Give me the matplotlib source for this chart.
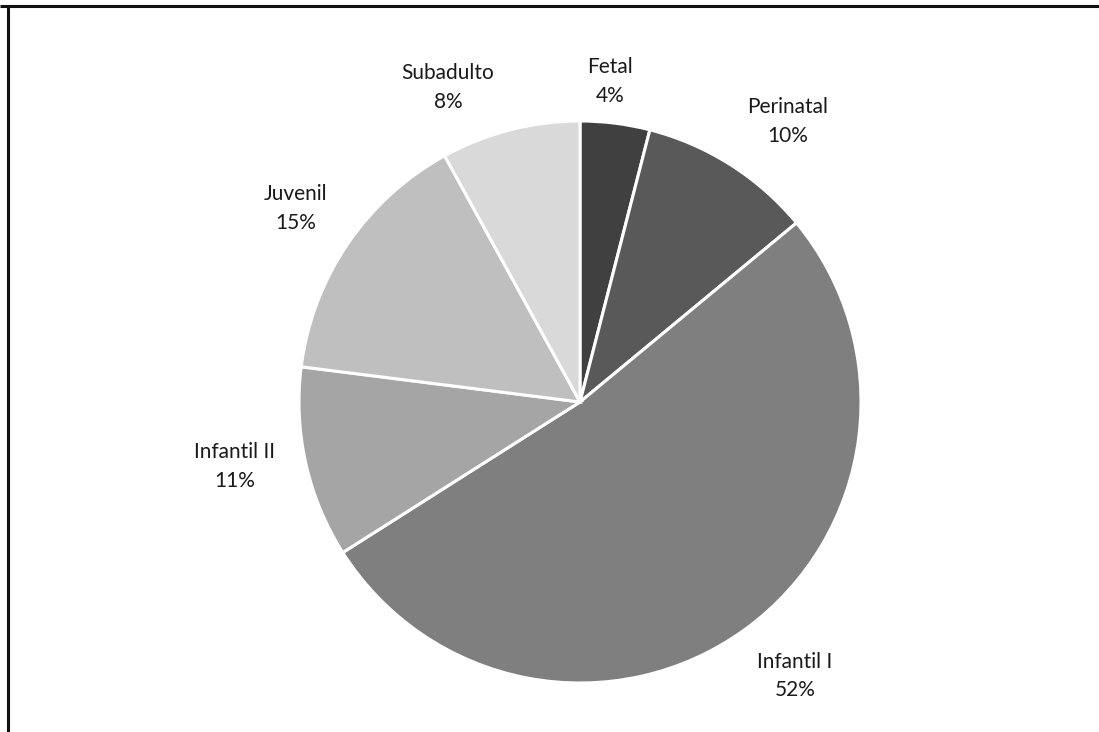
import matplotlib
matplotlib.use("Agg")
import matplotlib.pyplot as plt
from matplotlib.lines import Line2D

# Age-group distribution
categories = ["Fetal", "Perinatal", "Infantil I", "Infantil II", "Juvenil", "Subadulto"]
percentages = [4, 10, 52, 11, 15, 8]
colors = ["#404040", "#595959", "#7f7f7f", "#a5a5a5", "#bfbfbf", "#d9d9d9"]

# Label anchor points (in units of the pie radius) for each category
label_xy = [(0.107, 1.140), (0.740, 0.998), (0.765, -0.975),
            (-1.228, -0.230), (-1.011, 0.690), (-0.470, 1.118)]

W, H, DPI = 1099, 732, 100
fig = plt.figure(figsize=(W / DPI, H / DPI), dpi=DPI)
fig.patch.set_facecolor("white")

cx, cy, r = 580, 402, 281
ax = fig.add_axes([(cx - r) / W, (H - cy - r) / H, 2 * r / W, 2 * r / H])

ax.pie(percentages, colors=colors, startangle=90, counterclock=False,
       radius=1.0, wedgeprops=dict(edgecolor="white", linewidth=2.2))
ax.set_xlim(-1, 1)
ax.set_ylim(-1, 1)
ax.set_aspect("equal")
ax.axis("off")

for name, pct, (lx, ly) in zip(categories, percentages, label_xy):
    ax.text(lx, ly, f"{name}\n{pct}%", ha="center", va="center",
            fontsize=15, family=["Lato", "DejaVu Sans"], color="#1a1a1a",
            linespacing=1.55, clip_on=False)

# Chart frame (top and left edges)
lw = 2.2
fig.add_artist(Line2D([0, 1], [1 - 6.0 / H, 1 - 6.0 / H], transform=fig.transFigure,
                      color="#111111", linewidth=lw, solid_capstyle="butt"))
fig.add_artist(Line2D([8.0 / W, 8.0 / W], [0, 1 - 6.0 / H], transform=fig.transFigure,
                      color="#111111", linewidth=lw, solid_capstyle="butt"))

fig.savefig("out.png", dpi=DPI, facecolor="white")
